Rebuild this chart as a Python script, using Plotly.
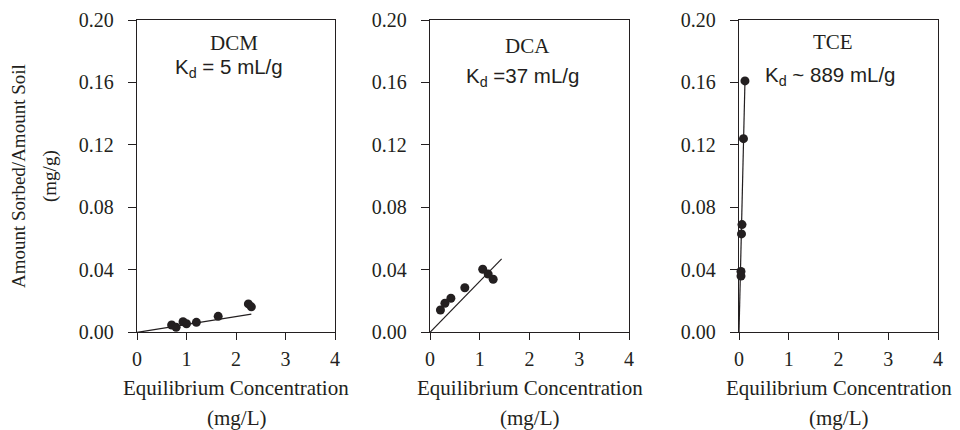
import plotly.graph_objects as go

# ---------------- data ----------------
x_ticks = [0, 1, 2, 3, 4]
x_tick_labels = ["0", "1", "2", "3", "4"]
y_ticks = [0.00, 0.04, 0.08, 0.12, 0.16, 0.20]
y_tick_labels = ["0.00", "0.04", "0.08", "0.12", "0.16", "0.20"]

dcm_x = [0.70, 0.79, 0.93, 1.00, 1.20, 1.64, 2.25, 2.31]
dcm_y = [0.0047, 0.0032, 0.0068, 0.0055, 0.0064, 0.0102, 0.0182, 0.0163]
dcm_fit_x = [0, 2.31]
dcm_fit_y = [0, 0.0116]

dca_x = [0.21, 0.30, 0.42, 0.70, 1.06, 1.17, 1.27]
dca_y = [0.0143, 0.0186, 0.0218, 0.0285, 0.0404, 0.0373, 0.0340]
dca_fit_x = [0, 1.44]
dca_fit_y = [0, 0.047]

tce_x = [0.12, 0.09, 0.06, 0.05, 0.04, 0.04]
tce_y = [0.161, 0.124, 0.069, 0.063, 0.039, 0.036]
tce_fit_x = [0, 0.12]
tce_fit_y = [0, 0.161]

panel_names = ["DCM", "DCA", "TCE"]
kd_labels = ["K<sub>d</sub> = 5 mL/g", "K<sub>d</sub> =37 mL/g", "K<sub>d</sub> ~ 889 mL/g"]
x_title = "Equilibrium Concentration"
x_unit = "(mg/L)"
y_title = "Amount Sorbed/Amount Soil"
y_unit = "(mg/g)"

# ---------------- styling ----------------
SERIF = "Liberation Serif, Times New Roman, serif"
SANS = "Liberation Sans, Arial, sans-serif"
INK = "#231f20"
W, H = 960, 430

panels_px = [(137, 335), (430, 629), (739, 938)]
top_px, bottom_px = 20, 332.3
ydom = [1 - bottom_px / H, 1 - top_px / H]

fig = go.Figure()

series = [
    (dcm_x, dcm_y, dcm_fit_x, dcm_fit_y),
    (dca_x, dca_y, dca_fit_x, dca_fit_y),
    (tce_x, tce_y, tce_fit_x, tce_fit_y),
]

name_pos = [(1.95, 0.1853), (1.95, 0.1836), (1.89, 0.1858)]
kd_pos = [(1.86, 0.1690), (1.85, 0.1635), (1.83, 0.1640)]

annotations = []
for i, (sx, sy, fx, fy) in enumerate(series):
    xa = "x" if i == 0 else f"x{i+1}"
    ya = "y" if i == 0 else f"y{i+1}"
    fig.add_trace(go.Scatter(x=fx, y=fy, mode="lines", xaxis=xa, yaxis=ya,
                             line=dict(color=INK, width=1.2), showlegend=False,
                             cliponaxis=False))
    fig.add_trace(go.Scatter(x=sx, y=sy, mode="markers", xaxis=xa, yaxis=ya,
                             marker=dict(color=INK, size=9), showlegend=False,
                             cliponaxis=False))
    annotations.append(dict(x=name_pos[i][0], y=name_pos[i][1], xref=xa, yref=ya,
                            xanchor="center", yanchor="middle",
                            text=panel_names[i], showarrow=False,
                            font=dict(family=SERIF, size=21, color=INK)))
    annotations.append(dict(x=kd_pos[i][0], y=kd_pos[i][1], xref=xa, yref=ya,
                            xanchor="center", yanchor="middle",
                            text=kd_labels[i], showarrow=False,
                            font=dict(family=SANS, size=20.5, color=INK)))
    annotations.append(dict(x=2, y=1 - 388 / H, xref=xa, yref="paper",
                            xanchor="center", yanchor="middle",
                            text=x_title, showarrow=False,
                            font=dict(family=SERIF, size=21, color=INK)))
    annotations.append(dict(x=2, y=1 - 418 / H, xref=xa, yref="paper",
                            xanchor="center", yanchor="middle",
                            text=x_unit, showarrow=False,
                            font=dict(family=SERIF, size=21, color=INK)))

annotations.append(dict(x=18 / W, y=1 - 176 / H, xref="paper", yref="paper",
                        xanchor="center", yanchor="middle",
                        text=y_title, textangle=-90, showarrow=False,
                        font=dict(family=SERIF, size=19, color=INK)))
annotations.append(dict(x=50 / W, y=1 - 176 / H, xref="paper", yref="paper",
                        xanchor="center", yanchor="middle",
                        text=y_unit, textangle=-90, showarrow=False,
                        font=dict(family=SERIF, size=19, color=INK)))

layout = dict(
    width=W, height=H,
    margin=dict(l=0, r=0, t=0, b=0, pad=0, autoexpand=False),
    paper_bgcolor="white", plot_bgcolor="white",
    showlegend=False,
    annotations=annotations,
)

for i, (l, r) in enumerate(panels_px):
    xdom = [l / W, r / W]
    xk = "xaxis" if i == 0 else f"xaxis{i+1}"
    yk = "yaxis" if i == 0 else f"yaxis{i+1}"
    xa = "x" if i == 0 else f"x{i+1}"
    ya = "y" if i == 0 else f"y{i+1}"
    layout[xk] = dict(domain=xdom, anchor=ya, range=[0, 4], tickvals=x_ticks,
                      ticktext=x_tick_labels, ticks="outside", ticklen=7,
                      tickwidth=1.2, tickcolor=INK, showline=True, linecolor=INK,
                      linewidth=1.3, mirror=True, showgrid=False, zeroline=False,
                      automargin=False, ticklabelstandoff=2,
                      tickfont=dict(family=SERIF, size=20, color=INK))
    layout[yk] = dict(domain=ydom, anchor=xa, range=[0, 0.20], tickvals=y_ticks,
                      ticktext=y_tick_labels, ticks="outside", ticklen=8,
                      tickwidth=1.2, tickcolor=INK, showline=True, linecolor=INK,
                      linewidth=1.3, mirror=True, showgrid=False, zeroline=False,
                      automargin=False, ticklabelstandoff=10,
                      tickfont=dict(family=SERIF, size=20, color=INK))
    # overlay axes for the inner half of the crossing ticks
    ox = f"xaxis{i+4}"
    oy = f"yaxis{i+4}"
    layout[ox] = dict(domain=xdom, anchor=ya, overlaying=xa, side="bottom",
                      range=[0, 4], tickvals=x_ticks, ticks="inside", ticklen=7,
                      tickwidth=1.2, tickcolor=INK, showticklabels=False,
                      showline=False, showgrid=False, zeroline=False, automargin=False)
    layout[oy] = dict(domain=ydom, anchor=xa, overlaying=ya, side="left",
                      range=[0, 0.20], tickvals=y_ticks, ticks="inside", ticklen=8,
                      tickwidth=1.2, tickcolor=INK, showticklabels=False,
                      showline=False, showgrid=False, zeroline=False, automargin=False)

fig.update_layout(**layout)
fig.write_html(
    "out.html",
    config={"displayModeBar": False},
    post_script="document.body.style.margin='0px';document.body.style.overflow='hidden';",
)
